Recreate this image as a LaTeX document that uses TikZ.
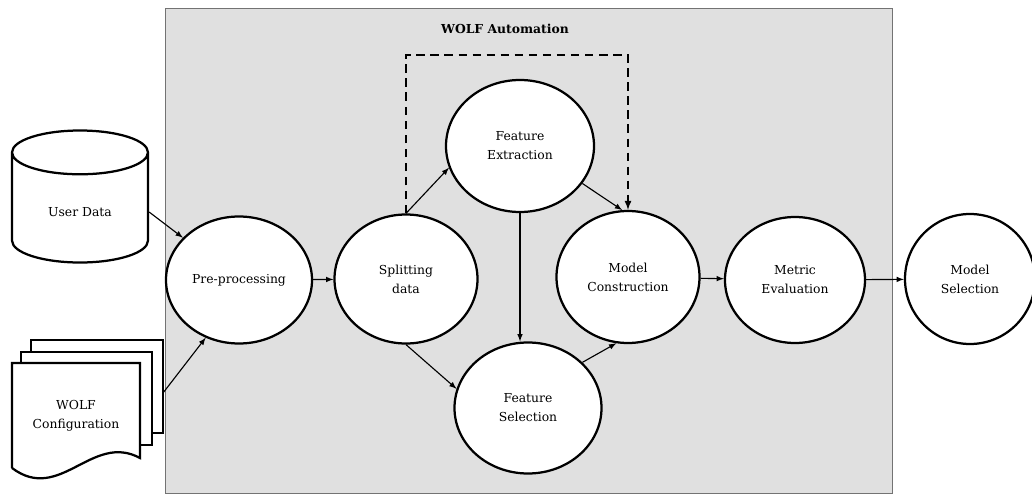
\documentclass[tikz,border=0pt]{standalone}
\usepackage{fontspec}
\setmainfont{DejaVu Serif}
\usetikzlibrary{shapes.geometric}

\begin{document}
\begin{tikzpicture}[>=latex, font=\fontsize{8.8}{13.5}\selectfont,
    proc/.style={ellipse, draw, line width=1.6pt, fill=white, align=center, inner sep=0pt},
    flow/.style={->, line width=0.8pt}]
        \useasboundingbox (0,0) rectangle (25.8,12.4);

        % Automation frame
        \node[draw=black!55, fill=black!12, line width=0.8pt, anchor=south west,
              minimum width=18.175cm, minimum height=12.125cm] (frame) at (4.125,0.05) {};
        \node[font=\fontsize{8.8}{13.5}\selectfont\bfseries] (title) at (12.625,11.675) {WOLF Automation};

        % Inputs
        \node[cylinder, shape border rotate=90, aspect=0.6, draw, line width=1.6pt, fill=white,
              minimum width=3.4cm, minimum height=3.3cm] (data) at (2,7.1) {User Data};

        \draw[line width=1.6pt, fill=white] (0.775,1.575) rectangle (4.075,3.9);
        \draw[line width=1.6pt, fill=white] (0.525,1.275) rectangle (3.8,3.6);
        \draw[line width=1.6pt, fill=white] (0.3,0.7) -- (0.3,3.325) -- (3.5,3.325) -- (3.5,0.95)
            .. controls (2.3,1.6) and (1.5,-0.2) .. (0.3,0.7);
        \node[align=center] (conf) at (1.9,2.0) {WOLF\\Configuration};
        \coordinate (confr) at (4.075,2.575);

        % Define nodes
        \node[proc, minimum width=3.65cm, minimum height=3.175cm] (pre) at (5.975,5.4) {Pre-processing};
        \node[proc, minimum width=3.575cm, minimum height=3.225cm] (split) at (10.15,5.425) {Splitting\\data};
        \node[proc, minimum width=3.7cm, minimum height=3.3cm] (fext) at (13,8.75) {Feature\\Extraction};
        \node[proc, minimum width=3.675cm, minimum height=3.275cm] (fsel) at (13.2,2.2) {Feature\\Selection};
        \node[proc, minimum width=3.575cm, minimum height=3.3cm] (mcon) at (15.7,5.475) {Model\\Construction};
        \node[proc, minimum width=3.5cm, minimum height=3.15cm] (meval) at (19.875,5.4) {Metric\\Evaluation};
        \node[proc, minimum width=3.25cm, minimum height=3.25cm] (msel) at (24.25,5.425) {Model\\Selection};
        \coordinate (dtop) at (12.8,11.025);

        % Draw edges
        \draw[flow] (data.east) -- (pre.143);
        \draw[flow] (confr) -- (pre.240);
        \draw[flow] (split.north) -- (fext.197);
        \draw[flow] (split.south) -- (fsel.165);
        \draw[flow] (fext.south) -- (fext.south |- fsel.north);
        \draw[flow] (fext.-31) -- (mcon.95);
        \draw[flow] (fsel.40) -- (mcon.260);
        \draw[->, dashed, line width=1.2pt, dash pattern=on 6pt off 4pt] (split.north) |- (dtop) -| (mcon.north);

        \foreach \a/\b in {pre/split, mcon/meval, meval/msel}
            \draw[flow] (\a) -- (\b);

    \end{tikzpicture}
\end{document}
